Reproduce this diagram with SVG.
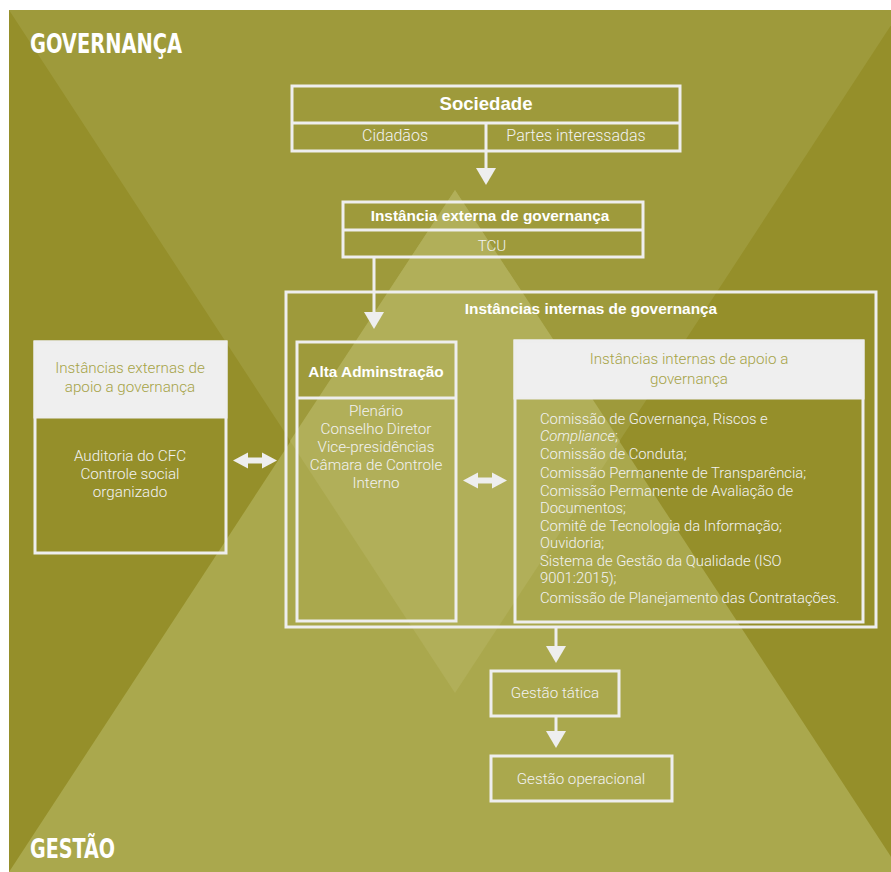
<svg xmlns="http://www.w3.org/2000/svg" width="891" height="872" viewBox="0 0 891 872">
  <style>
    .box { fill: none; stroke: #eeeeee; stroke-width: 3; }
    .hdr { fill: #efefef; stroke: #eeeeee; stroke-width: 3; }
    .ln { stroke: #eeeeee; stroke-width: 3; fill: none; }
    .t { font-family: Roboto, "Liberation Sans", sans-serif; font-weight: 300; font-size: 15.2px; fill: #f2f2f2; }
    .l { font-size: 14.8px; }
    .c { text-anchor: middle; }
    .b { font-family: "Liberation Sans", Arial, sans-serif; font-weight: bold; font-size: 15.4px; fill: #ffffff; }
    .o { fill: #a6a347; }
    .big { font-family: "Liberation Sans Narrow", "DejaVu Sans Condensed", "Liberation Sans", sans-serif; font-weight: bold; font-size: 26px; fill: #ffffff; }
  </style>
  <defs>
    <marker id="arr" markerWidth="17" markerHeight="20" refX="0" refY="10" orient="auto" markerUnits="userSpaceOnUse" viewBox="0 0 17 20">
      <path d="M0,0 L17,10 L0,20 Z" fill="#eeeeee"/>
    </marker>
    <path id="dbl" d="M0,0 L15,-8 L15,-3 L29,-3 L29,-8 L44,0 L29,8 L29,3 L15,3 L15,8 Z" fill="#eeeeee"/>
  </defs>
  <rect width="891" height="872" fill="#ffffff"/>
  <g id="background">
    <rect x="9" y="10" width="882" height="862" fill="#958f2a"/>
    <polygon points="9,10 901,10 455,693" fill="#9e9a3b"/>
    <polygon points="9,872 901,872 455,190" fill="#aaa84d"/>
    <polygon points="455,190 290,441 455,693 620,441" fill="#b1af59"/>
  </g>
  <g id="labels">
    <text class="big" x="30" y="53" textLength="152" lengthAdjust="spacingAndGlyphs">GOVERNANÇA</text>
    <text class="big" x="30" y="858" textLength="85" lengthAdjust="spacingAndGlyphs">GESTÃO</text>
  </g>
  <g id="connectors">
    <line class="ln" x1="486" y1="123" x2="486" y2="168" marker-end="url(#arr)"/>
    <line class="ln" x1="374" y1="257" x2="374" y2="312" marker-end="url(#arr)"/>
    <line class="ln" x1="556" y1="627" x2="556" y2="646" marker-end="url(#arr)"/>
    <line class="ln" x1="556" y1="716" x2="556" y2="731" marker-end="url(#arr)"/>
    <use href="#dbl" x="233" y="460.5"/>
    <use href="#dbl" x="463" y="480.5"/>
  </g>
  <g id="sociedade">
    <rect class="box" x="292" y="86" width="388" height="65"/>
    <line class="ln" x1="292" y1="123" x2="680" y2="123"/>
    <text class="b c" x="486" y="110" style="font-size:18.6px">Sociedade</text>
    <text class="t c" x="395" y="141" style="font-size:16px">Cidadãos</text>
    <text class="t c" x="576" y="141" style="font-size:16px">Partes interessadas</text>
  </g>
  <g id="instancia-externa">
    <rect class="box" x="343" y="202" width="300" height="55"/>
    <line class="ln" x1="343" y1="230" x2="643" y2="230"/>
    <text class="b c" x="490" y="221">Instância externa de governança</text>
    <text class="t c" x="492" y="251">TCU</text>
  </g>
  <g id="instancias-internas">
    <rect class="box" x="286" y="292" width="590" height="335"/>
    <text class="b c" x="591" y="314">Instâncias internas de governança</text>
  </g>
  <g id="alta-administracao">
    <rect class="box" x="297" y="342" width="159" height="279"/>
    <line class="ln" x1="297" y1="398" x2="456" y2="398"/>
    <text class="b c" x="376" y="377">Alta Adminstração</text>
    <text class="t c" x="376" y="416">Plenário</text>
    <text class="t c" x="376" y="434">Conselho Diretor</text>
    <text class="t c" x="376" y="452">Vice-presidências</text>
    <text class="t c" x="376" y="470">Câmara de Controle</text>
    <text class="t c" x="376" y="488">Interno</text>
  </g>
  <g id="apoio-interno">
    <rect class="hdr" x="515" y="341" width="348" height="57"/>
    <rect class="box" x="515" y="341" width="348" height="281"/>
    <text class="t c o" x="689" y="364">Instâncias internas de apoio a</text>
    <text class="t c o" x="689" y="384">governança</text>
    <text class="t l" x="540" y="424">Comissão de Governança, Riscos e</text>
    <text class="t l" x="540" y="441"><tspan font-style="italic">Compliance</tspan>;</text>
    <text class="t l" x="540" y="459">Comissão de Conduta;</text>
    <text class="t l" x="540" y="478">Comissão Permanente de Transparência;</text>
    <text class="t l" x="540" y="496">Comissão Permanente de Avaliação de</text>
    <text class="t l" x="540" y="513">Documentos;</text>
    <text class="t l" x="540" y="531">Comitê de Tecnologia da Informação;</text>
    <text class="t l" x="540" y="548">Ouvidoria;</text>
    <text class="t l" x="540" y="566">Sistema de Gestão da Qualidade (ISO</text>
    <text class="t l" x="540" y="583">9001:2015);</text>
    <text class="t l" x="540" y="603">Comissão de Planejamento das Contratações.</text>
  </g>
  <g id="apoio-externo">
    <rect class="hdr" x="35" y="342" width="191" height="75"/>
    <rect class="box" x="35" y="342" width="191" height="211"/>
    <text class="t c o" x="130" y="373">Instâncias externas de</text>
    <text class="t c o" x="130" y="392">apoio a governança</text>
    <text class="t c" x="130" y="461">Auditoria do CFC</text>
    <text class="t c" x="130" y="479">Controle social</text>
    <text class="t c" x="130" y="497">organizado</text>
  </g>
  <g id="gestao-tatica">
    <rect class="box" x="491" y="671" width="128" height="45"/>
    <text class="t c" x="555" y="698">Gestão tática</text>
  </g>
  <g id="gestao-operacional">
    <rect class="box" x="491" y="756" width="181" height="45"/>
    <text class="t c" x="581" y="784">Gestão operacional</text>
  </g>
</svg>
